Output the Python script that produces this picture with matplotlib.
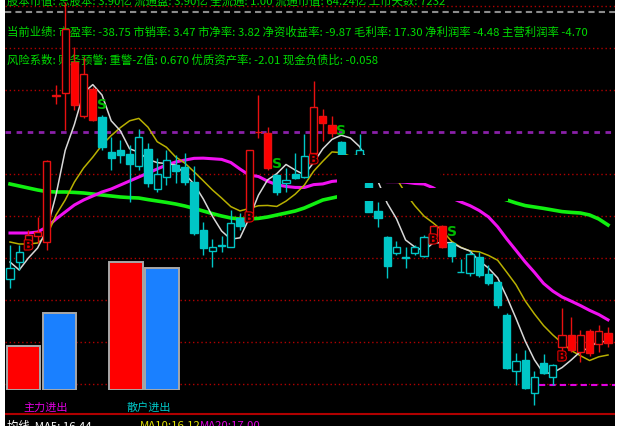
import numpy as np
import pandas as pd
import matplotlib
matplotlib.use('Agg')
import matplotlib.pyplot as plt
import matplotlib.patheffects as pe
from matplotlib.patches import Rectangle

plt.rcParams['font.family'] = ['Noto Sans CJK SC', 'DejaVu Sans']

# ---- daily K-line data ----
opens = [18.03, 18.45, 18.90, 19.10, 18.95, 22.60, 22.675, 23.45, 22.10, 22.775,
         22.075, 21.20, 21.25, 21.15, 20.85, 21.275, 20.275, 20.575, 20.875, 20.825,
         20.45, 19.25, 18.725, 18.85, 18.825, 19.55, 19.575, 21.70, 21.675, 20.625,
         20.425, 20.65, 20.575, 21.175, 22.10, 21.875, 21.45, 21.10, 20.875, 20.425,
         19.725, 19.075, 18.675, 18.56, 18.675, 18.60, 19.10, 19.35, 18.925, 18.19,
         18.175, 18.575, 18.15, 17.95, 17.125, 15.725, 16.00, 15.175, 15.925, 15.575,
         16.325, 16.625, 16.20, 16.725, 16.40, 16.675]
highs = [18.88, 18.875, 19.25, 19.575, 21.00, 22.875, 24.95, 23.825, 23.575, 22.825,
         22.125, 21.575, 21.50, 21.375, 21.775, 21.425, 21.05, 21.25, 21.125, 21.175,
         20.85, 19.45, 19.025, 19.10, 19.75, 19.675, 21.25, 22.625, 21.825, 20.65,
         20.80, 21.175, 21.65, 22.975, 22.275, 22.10, 21.475, 21.10, 21.65, 20.425,
         19.95, 19.10, 18.975, 18.825, 18.875, 19.125, 19.375, 19.375, 18.95, 18.525,
         18.725, 18.70, 18.375, 17.975, 17.175, 16.175, 16.25, 15.725, 16.15, 15.90,
         17.30, 17.075, 16.75, 16.775, 16.875, 16.825]
lows = [17.80, 18.25, 18.85, 18.925, 18.75, 22.40, 21.75, 22.25, 22.05, 21.975,
        21.25, 20.75, 20.925, 19.95, 20.75, 20.325, 20.20, 20.375, 20.425, 20.375,
        19.125, 18.625, 18.325, 18.70, 18.825, 19.25, 19.55, 21.55, 20.75, 20.125,
        20.20, 20.525, 20.55, 21.00, 21.475, 21.575, 21.05, 20.60, 20.80, 19.70,
        19.325, 18.05, 18.625, 18.30, 18.625, 18.575, 19.00, 18.80, 18.45, 18.19,
        18.10, 18.075, 17.875, 17.30, 15.775, 15.375, 15.275, 14.875, 15.65, 15.375,
        16.075, 16.20, 15.95, 16.10, 16.20, 16.325]
closes = [18.30, 18.70, 19.125, 19.20, 20.975, 22.625, 24.275, 22.375, 23.15, 22.00,
          21.325, 21.05, 21.125, 20.90, 21.575, 20.425, 20.65, 21.00, 20.725, 20.45,
          19.175, 18.80, 18.825, 18.875, 19.425, 19.35, 21.25, 21.69, 20.80, 20.20,
          20.50, 20.55, 21.10, 22.325, 21.925, 21.675, 21.075, 20.75, 21.25, 19.70,
          19.55, 18.35, 18.825, 18.575, 18.825, 19.075, 19.35, 18.825, 18.60, 18.20,
          18.65, 18.125, 17.925, 17.375, 15.80, 15.975, 15.30, 15.575, 15.675, 15.875,
          16.625, 16.25, 16.625, 16.175, 16.725, 16.425]

buy_idx = [2, 26, 33, 46, 60]
sell_idx = [10, 29, 36, 48]

# moving-average values before enough history is on screen
ma5_head = [18.45, 18.25, 18.55, 18.80]
ma10_head = [18.95, 18.90, 18.90, 18.925, 19.10, 19.625, 20.00, 20.45, 20.80]
ma20_head = [19.175, 19.175, 19.175, 19.20, 19.325, 19.525, 19.70, 19.875, 20.00, 20.10,
             20.20, 20.275, 20.375, 20.475, 20.575, 20.675, 20.775, 20.875, 20.95]
nan = np.nan
ma60 = [20.40, 20.35, 20.30, 20.25, 20.21, 20.20, 20.20, 20.19, 20.175, 20.15,
        20.125, 20.10, 20.075, 20.06, 20.05, 20.01, 19.975, 19.94, 19.90, 19.85,
        19.79, 19.725, 19.66, 19.60, 19.55, 19.525, 19.525, 19.54, 19.575, 19.625,
        19.675, 19.725, 19.80, 19.90, 20.00, 20.05, 20.10] + [nan] * 17 + \
       [20.00, 19.925, 19.86, 19.825, 19.79, 19.75, 19.71, 19.69, 19.675, 19.625,
        19.525, 19.375]

support_level = 15.375
support_from = 58

flow_labels = ['主力进出', '散户进出']
flow_in = [0.44, 1.28]
flow_out = [0.77, 1.22]

info_rows = [
    '股本市值: 总股本: 3.90亿 流通盘: 3.90亿 全流通: 1.00 流通市值: 64.24亿 上市天数: 7232',
    '当前业绩: 市盈率: -38.75 市销率: 3.47 市净率: 3.82 净资收益率: -9.87 毛利率: 17.30 净利润率 -4.48 主营利润率 -4.70',
    '风险系数: 财务预警: 重警-Z值: 0.670 优质资产率: -2.01 现金负债比: -0.058',
]

# ---- layout (pixels of the 621x426 picture) ----
W, H = 621, 426
PLOT_L, PLOT_R = 5, 615
FIRST_X, STEP = 10, 9.2
TOP_PRICE, PX_PER_UNIT = 25.0, 40.0

def px(x):
    return (x - FIRST_X) / STEP

def py(y):
    return TOP_PRICE - y / PX_PER_UNIT

RED_EDGE = '#e81010'
RED_FILL = '#ff0000'
CYAN = '#00c6c6'
TEXT_GREEN = '#00dc00'

fig = plt.figure(figsize=(W / 100, H / 100), dpi=100, facecolor='white')
ax = fig.add_axes([PLOT_L / W, 0, (PLOT_R - PLOT_L) / W, 1])
ax.set_facecolor('black')
ax.set_xticks([])
ax.set_yticks([])
for s in ax.spines.values():
    s.set_visible(False)
ax.set_xlim(px(PLOT_L), px(PLOT_R))
ax.set_ylim(py(H), py(0))

# grid
for k in range(10):
    y = py(6 + 42 * k)
    if k == 3:
        ax.axhline(y, color='#8a20a8', lw=2, ls=(0, (2, 2)), zorder=1)
    else:
        ax.axhline(y, color='#b00000', lw=1, ls=(0, (1, 2)), zorder=1)
ax.axhline(py(12), color='#8c8c8c', lw=1.5, ls=(0, (3, 2)), zorder=1)
ax.axhline(py(414), color='#b00000', lw=1.5, zorder=1)
ax.hlines(support_level, support_from - 0.5, px(PLOT_R), color='#e000e0',
          lw=1.5, ls=(0, (3, 2)), zorder=1)

# info text
for row, yc in zip(info_rows, [1.5, 32, 60]):
    ax.text(px(7), py(yc), row, color=TEXT_GREEN, fontsize=8.2, va='center',
            ha='left', zorder=2)

# moving averages
c = np.array(closes)
o = np.array(opens)
h = np.array(highs)
l = np.array(lows)
n = len(c)
idx = np.arange(n)
ma5 = pd.Series(c).rolling(5).mean().to_numpy()
ma5[:len(ma5_head)] = ma5_head
ma10 = pd.Series(c).rolling(10).mean().to_numpy()
ma10[:len(ma10_head)] = ma10_head
ma20 = pd.Series(c).rolling(20).mean().to_numpy()
ma20[:len(ma20_head)] = ma20_head

ax.plot(idx, ma60, color='#10f010', lw=2.6, zorder=3)
ax.plot(idx, ma20, color='#f010f0', lw=2.2, zorder=3)
ax.plot(idx, ma10, color='#b8b000', lw=1.1, zorder=3)
ax.plot(idx, ma5, color='#d8d8d8', lw=1.1, zorder=3)

# candles
red = np.zeros(n, dtype=bool)
for b in buy_idx:
    later = [s for s in sell_idx if s > b]
    red[b:later[0] if later else n] = True
hollow = c > o
body_lo = np.minimum(o, c)
body_h = np.maximum(np.abs(c - o), 0.012)
edge = np.where(red, RED_EDGE, CYAN)
face = np.where(hollow, 'black', np.where(red, RED_FILL, CYAN))
ax.vlines(idx, l, h, colors=edge, lw=1, zorder=4)
ax.bar(idx, body_h, bottom=body_lo, width=0.78, color=face, edgecolor=edge,
       linewidth=1, zorder=4.5)

# panels drawn over the chart
ax.add_patch(Rectangle((px(337), py(183)), px(440) - px(337), py(155) - py(183),
                       facecolor='black', edgecolor='none', zorder=5))
ax.add_patch(Rectangle((px(337), py(201)), px(508) - px(337), py(188) - py(201),
                       facecolor='black', edgecolor='none', zorder=5))

# buy / sell marks
for b in buy_idx:
    ax.text(b, l[b], 'B', color='#1a0000', fontsize=9, fontweight='bold',
            family='DejaVu Sans', ha='center', va='center', zorder=6,
            path_effects=[pe.withStroke(linewidth=1.6, foreground='#e00000')])
for s in sell_idx:
    ax.annotate('S', (s, h[s]), xytext=(0, 2), textcoords='offset points',
                color='#00b800', fontsize=10, fontweight='bold', family='DejaVu Sans',
                ha='center', va='bottom', zorder=6)

# bottom status line (cut off by the picture edge)
ax.text(px(7), py(426), f'均线  MA5: {ma5[-1]:.2f}', color='white', fontsize=8.2,
        va='center', zorder=2)
ax.text(px(140), py(426), f'MA10:{ma10[-1]:.2f}', color='#e0e000', fontsize=8.2,
        va='center', zorder=2)
ax.text(px(200), py(426), f'MA20:{ma20[-1]:.2f}', color='#e000e0', fontsize=8.2,
        va='center', zorder=2)

# money-flow bars
ax2 = fig.add_axes([5 / W, (H - 390) / H, 177 / W, 135 / H])
ax2.patch.set_alpha(0)
ax2.axis('off')
ax2.set_xlim(-0.514, 4.403)
ax2.set_ylim(0, 1.35)
group_x = np.array([0.0, 2.85])
ax2.bar(group_x, flow_in, width=0.94, color='#ff0000', edgecolor='#a8a8a8', lw=1.4)
ax2.bar(group_x + 1, flow_out, width=0.94, color='#1a80ff', edgecolor='#a8a8a8', lw=1.4)
for gx, lab, col in zip(group_x, flow_labels, ['#e000e0', '#00c8c8']):
    ax2.text(gx + 0.62, -0.133, lab, color=col, fontsize=8, ha='center', va='center',
             transform=ax2.get_xaxis_transform(), clip_on=False)

fig.savefig('out.png', dpi=100, facecolor='white')
